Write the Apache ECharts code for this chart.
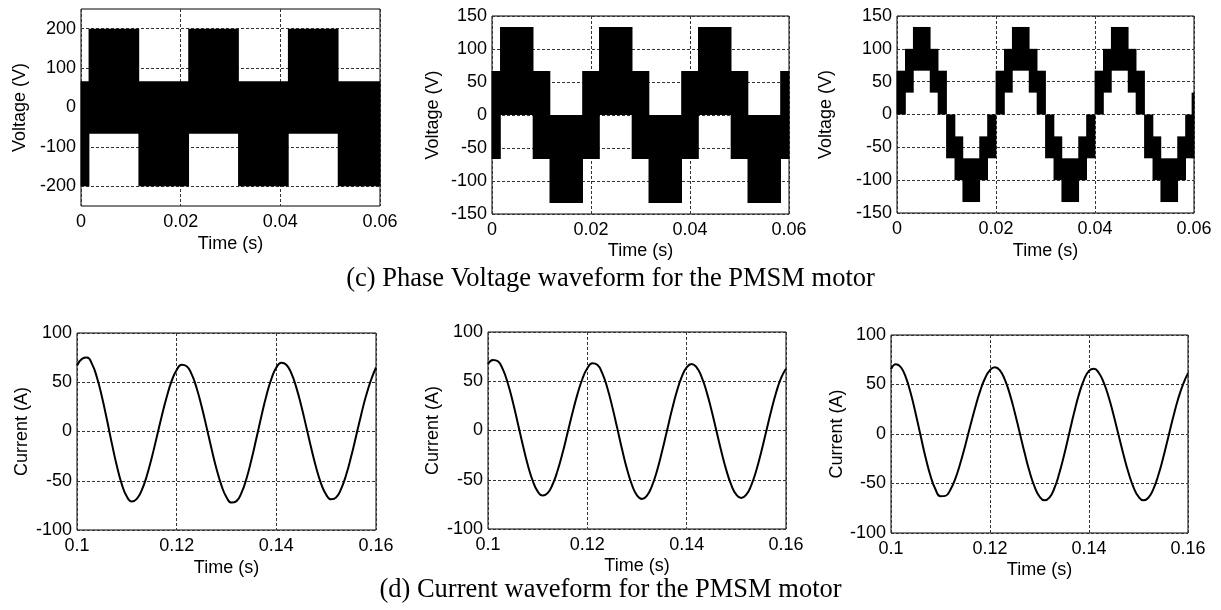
<!DOCTYPE html>
<html><head><meta charset="utf-8">
<script src="https://cdn.jsdelivr.net/npm/echarts@6.0.0/dist/echarts.min.js"></script>
<style>html,body{margin:0;padding:0;background:#fff}#chart{width:1221px;height:610px}</style>
</head><body><div id="chart"></div>
<script>
// ---------- captions ----------
const captionVoltage = '(c) Phase Voltage waveform for the PMSM motor';
const captionCurrent = '(d) Current waveform for the PMSM motor';

// ---------- tick values ----------
const timeTicksTop = [0, 0.02, 0.04, 0.06];
const timeTicksBottom = [0.1, 0.12, 0.14, 0.16];
const voltTicks1 = [-200, -100, 0, 100, 200];
const voltTicks23 = [-150, -100, -50, 0, 50, 100, 150];
const currentTicks = [-100, -50, 0, 50, 100];

// ---------- voltage waveform 1 (switching bands: time edges, lower level, upper level) ----------
const v1Edges = [0, 0.0016, 0.0116, 0.0216, 0.0316, 0.0416, 0.0516, 0.06];
const v1Low   = [-200, -66.7, -200, -66.7, -200, -66.7, -200];
const v1High  = [66.7, 200, 66.7, 200, 66.7, 200, 66.7];

// ---------- voltage waveform 2 ----------
const v2Edges = [0, 0.0017, 0.0083, 0.0117, 0.0183, 0.0217, 0.0283, 0.0317, 0.0383, 0.0417, 0.0483, 0.0517, 0.0583, 0.06];
const v2Low   = [-66.7, 0, -66.7, -133.3, -66.7, 0, -66.7, -133.3, -66.7, 0, -66.7, -133.3, -66.7];
const v2High  = [66.7, 133.3, 66.7, 0, 66.7, 133.3, 66.7, 0, 66.7, 133.3, 66.7, 0, 66.7];

// ---------- voltage waveform 3 ----------
const v3Edges = [0, 0.0017, 0.0033, 0.0067, 0.0083,
                 0.01, 0.0117, 0.0133, 0.0167, 0.0183,
                 0.02, 0.0217, 0.0233, 0.0267, 0.0283,
                 0.03, 0.0317, 0.0333, 0.0367, 0.0383,
                 0.04, 0.0417, 0.0433, 0.0467, 0.0483,
                 0.05, 0.0517, 0.0533, 0.0567, 0.0583,
                 0.0596, 0.06];
const v3Low   = [0, 33.3, 66.7, 33.3, 0,
                 -66.7, -100, -133.3, -100, -66.7,
                 0, 33.3, 66.7, 33.3, 0,
                 -66.7, -100, -133.3, -100, -66.7,
                 0, 33.3, 66.7, 33.3, 0,
                 -66.7, -100, -133.3, -100, -66.7,
                 -66.7];
const v3High  = [66.7, 100, 133.3, 100, 66.7,
                 0, -33.3, -66.7, -33.3, 0,
                 66.7, 100, 133.3, 100, 66.7,
                 0, -33.3, -66.7, -33.3, 0,
                 66.7, 100, 133.3, 100, 66.7,
                 0, -33.3, -66.7, -33.3, 0,
                 33.3];

// ---------- current waveforms: samples every 1 ms ----------
const currentTime = [0.100, 0.101, 0.102, 0.103, 0.104, 0.105, 0.106, 0.107, 0.108, 0.109,
                     0.110, 0.111, 0.112, 0.113, 0.114, 0.115, 0.116, 0.117, 0.118, 0.119,
                     0.120, 0.121, 0.122, 0.123, 0.124, 0.125, 0.126, 0.127, 0.128, 0.129,
                     0.130, 0.131, 0.132, 0.133, 0.134, 0.135, 0.136, 0.137, 0.138, 0.139,
                     0.140, 0.141, 0.142, 0.143, 0.144, 0.145, 0.146, 0.147, 0.148, 0.149,
                     0.150, 0.151, 0.152, 0.153, 0.154, 0.155, 0.156, 0.157, 0.158, 0.159,
                     0.160];
const current1 = [67, 73.8, 75.1, 68.7, 54.9, 35.3, 12.1, -12.3, -35.0, -53.7,
                  -66.1, -71.0, -68.4, -59.5, -45.1, -26.6, -5.7, 15.5, 35.1, 51.3,
                  62.5, 67.7, 66.3, 58.2, 44.2, 25.6, 4.4, -17.6, -38.0, -54.9,
                  -66.7, -72.2, -70.7, -62.4, -47.9, -28.7, -6.9, 15.5, 36.3, 53.3,
                  64.9, 69.9, 67.8, 59.2, 44.8, 26.1, 4.9, -16.8, -36.8, -53.1,
                  -64.1, -68.9, -66.9, -58.3, -44.1, -25.7, -4.8, 16.6, 36.2, 52.3,
                  65];
const current2 = [67.5, 71.7, 70.3, 62.0, 47.7, 28.9, 7.4, -14.5, -34.7, -51.0,
                  -61.8, -66.0, -63.5, -54.8, -40.9, -23.1, -2.9, 17.7, 36.7, 52.3,
                  63.2, 68.2, 66.7, 58.3, 43.7, 24.5, 2.9, -19.3, -39.4, -55.5,
                  -65.9, -69.5, -66.1, -56.4, -41.3, -22.2, -1, 20.2, 39.3, 54.4,
                  64.1, 67.5, 64.2, 54.5, 39.5, 20.5, -0.5, -21.5, -40.5, -55.5,
                  -65.2, -68.5, -65.2, -55.7, -40.8, -22.0, -1.2, 19.5, 38.3, 53.2,
                  62.7];
const current3 = [65.5, 70.5, 67.4, 57.2, 40.8, 20.3, -2.1, -24.0, -42.6, -56.1,
                  -62.9, -62.5, -56.2, -45.0, -29.6, -11.5, 7.8, 26.6, 43.3, 56.3,
                  64.6, 67.5, 64.3, 54.9, 40.3, 21.8, 1.3, -19.3, -38.1, -53.1,
                  -63.1, -67.0, -64.2, -54.8, -39.7, -20.6, 0.6, 21.7, 40.5, 55.0,
                  63.8, 65.9, 61.6, 51.6, 36.8, 18.5, -1.6, -21.4, -39.4, -53.8,
                  -63.3, -67.0, -64.4, -55.7, -41.7, -23.7, -3.5, 16.8, 35.3, 50.2,
                  61.5];

// ---------- build ----------
const FONT = 'Liberation Sans';
const chart = echarts.init(document.getElementById('chart'), null, {renderer: 'canvas'});

function bands(edges, low, high) {
  return low.map((l, i) => [edges[i], edges[i + 1], l, high[i]]);
}
function pairs(t, v) { return t.map((x, i) => [x, v[i]]); }

function renderBand(params, api) {
  const a = api.coord([api.value(0), api.value(3)]);
  const b = api.coord([api.value(1), api.value(2)]);
  return {
    type: 'rect',
    shape: {x: a[0] - 0.4, y: a[1], width: b[0] - a[0] + 0.8, height: b[1] - a[1]},
    style: {fill: '#000'}
  };
}

const grids = [
  {left: 81, top: 9, width: 299, height: 197},
  {left: 492, top: 16, width: 297, height: 198},
  {left: 897, top: 16, width: 297, height: 197},
  {left: 77, top: 333, width: 299, height: 197},
  {left: 488, top: 332, width: 298, height: 197},
  {left: 891, top: 335, width: 297, height: 198}
].map(g => Object.assign({
  show: true, borderColor: '#000', borderWidth: 1, backgroundColor: '#fff',
  outerBoundsMode: 'none', containLabel: false
}, g));

const splitLine = {show: true, lineStyle: {color: '#333', width: 1, type: [3, 2]}};

function xAxis(idx, ticks, gap) {
  return {
    type: 'value', gridIndex: idx,
    min: ticks[0], max: ticks[ticks.length - 1],
    name: 'Time (s)', nameLocation: 'middle', nameGap: gap,
    nameTextStyle: {fontFamily: FONT, fontSize: 18, color: '#000'},
    axisLine: {show: false}, axisTick: {show: false, customValues: ticks},
    axisLabel: {customValues: ticks, fontFamily: FONT, fontSize: 18, color: '#000', margin: 7},
    splitLine: splitLine
  };
}
function yAxis(idx, ticks, name, gap) {
  return {
    type: 'value', gridIndex: idx,
    min: ticks[0], max: ticks[ticks.length - 1],
    name: name, nameLocation: 'middle', nameGap: gap,
    nameTextStyle: {fontFamily: FONT, fontSize: 18, color: '#000'},
    axisLine: {show: false}, axisTick: {show: false, customValues: ticks},
    axisLabel: {customValues: ticks, fontFamily: FONT, fontSize: 18, color: '#000', margin: 5},
    splitLine: splitLine
  };
}

const y1 = yAxis(0, voltTicks1, 'Voltage (V)', 52);
y1.min = -250; y1.max = 250;

const lineStyle = {color: '#000', width: 2};

const option = {
  animation: false,
  backgroundColor: '#fff',
  grid: grids,
  xAxis: [
    xAxis(0, timeTicksTop, 29),
    xAxis(1, timeTicksTop, 28),
    xAxis(2, timeTicksTop, 29),
    xAxis(3, timeTicksBottom, 29),
    xAxis(4, timeTicksBottom, 28),
    xAxis(5, timeTicksBottom, 28)
  ],
  yAxis: [
    y1,
    yAxis(1, voltTicks23, 'Voltage (V)', 50),
    yAxis(2, voltTicks23, 'Voltage (V)', 62),
    yAxis(3, currentTicks, 'Current (A)', 46),
    yAxis(4, currentTicks, 'Current (A)', 46),
    yAxis(5, currentTicks, 'Current (A)', 45)
  ],
  graphic: [
    {type: 'text', left: 'center', top: 266, style: {text: captionVoltage, font: '26.5px "Liberation Serif"', fill: '#000'}},
    {type: 'text', left: 'center', top: 577, style: {text: captionCurrent, font: '26.5px "Liberation Serif"', fill: '#000'}}
  ],
  series: [
    {type: 'custom', xAxisIndex: 0, yAxisIndex: 0, renderItem: renderBand, data: bands(v1Edges, v1Low, v1High), encode: {x: [0, 1], y: [2, 3]}},
    {type: 'custom', xAxisIndex: 1, yAxisIndex: 1, renderItem: renderBand, data: bands(v2Edges, v2Low, v2High), encode: {x: [0, 1], y: [2, 3]}},
    {type: 'custom', xAxisIndex: 2, yAxisIndex: 2, renderItem: renderBand, data: bands(v3Edges, v3Low, v3High), encode: {x: [0, 1], y: [2, 3]}},
    {type: 'line', xAxisIndex: 3, yAxisIndex: 3, data: pairs(currentTime, current1), smooth: true, showSymbol: false, lineStyle: lineStyle},
    {type: 'line', xAxisIndex: 4, yAxisIndex: 4, data: pairs(currentTime, current2), smooth: true, showSymbol: false, lineStyle: lineStyle},
    {type: 'line', xAxisIndex: 5, yAxisIndex: 5, data: pairs(currentTime, current3), smooth: true, showSymbol: false, lineStyle: lineStyle}
  ]
};
chart.setOption(option);
</script></body></html>
